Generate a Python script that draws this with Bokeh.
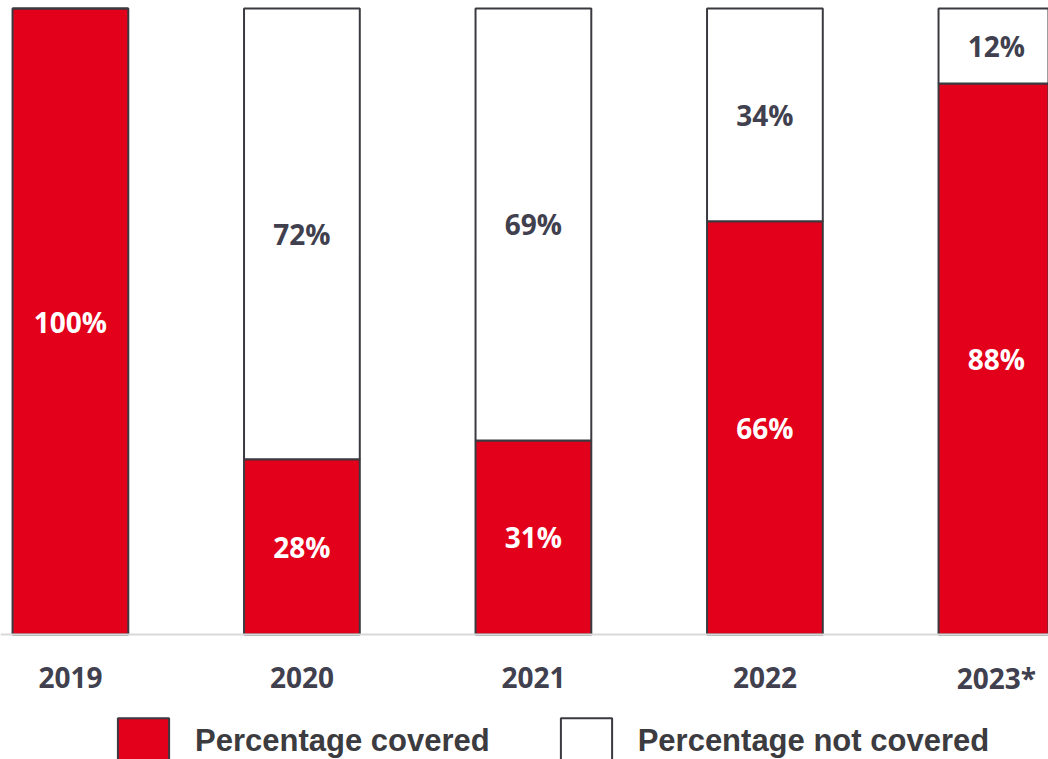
from bokeh.plotting import figure
from bokeh.models import ColumnDataSource, Range1d, Legend, LegendItem, LabelSet, Span
from bokeh.core.properties import value
from bokeh.embed import file_html
from bokeh.resources import INLINE

years = ["2019", "2020", "2021", "2022", "2023*"]
covered = [100, 28, 31, 66, 88]
not_covered = [0, 72, 69, 34, 12]

RED = "#E2001A"
DARK = "#40404E"
OUTLINE = "#3A3A40"

# pixel scale: 100 units span 626 px; the area below zero holds labels and legend
UNIT_PX = 6.26
LABEL_OFFSET_PX = 43

idx = list(range(len(years)))
src = ColumnDataSource(dict(
    x=idx,
    covered=covered,
    not_covered=not_covered,
    top=[c + n for c, n in zip(covered, not_covered)],
    cov_mid=[c / 2 for c in covered],
    nc_mid=[c + n / 2 for c, n in zip(covered, not_covered)],
    cov_lbl=[f"{c}%" for c in covered],
    nc_lbl=[f"{n}%" if n > 0 else "" for n in not_covered],
    year=years,
    year_y=[-LABEL_OFFSET_PX / UNIT_PX] * len(years),
))

p = figure(width=1048, height=759, output_backend="svg", toolbar_location=None,
           x_range=Range1d(-0.302, 4.225),
           y_range=Range1d(-125 / UNIT_PX, 100 + 8 / UNIT_PX),
           x_axis_location=None, y_axis_location=None,
           min_border_left=0, min_border_right=0,
           min_border_top=0, min_border_bottom=0)
p.outline_line_color = None
p.xgrid.visible = False
p.ygrid.visible = False

p.add_layout(Span(location=0, dimension="width", line_color="#D9D9D9", line_width=2))

r_cov = p.vbar(x="x", bottom=0, top="covered", width=0.5, source=src,
               fill_color=RED, line_color=OUTLINE, line_width=2)
r_nc = p.vbar(x="x", bottom="covered", top="top", width=0.5, source=src,
              fill_color="white", line_color=OUTLINE, line_width=2)

p.add_layout(LabelSet(x="x", y="cov_mid", text="cov_lbl", source=src,
                      text_align="center", text_baseline="middle",
                      text_font=value("Open Sans"), text_font_style="bold",
                      text_font_size=value("28px"), text_color="white"))
p.add_layout(LabelSet(x="x", y="nc_mid", text="nc_lbl", source=src,
                      text_align="center", text_baseline="middle",
                      text_font=value("Open Sans"), text_font_style="bold",
                      text_font_size=value("28px"), text_color=DARK))
p.add_layout(LabelSet(x="x", y="year_y", text="year", source=src,
                      text_align="center", text_baseline="middle",
                      text_font=value("Open Sans"), text_font_style="bold",
                      text_font_size=value("28px"), text_color=DARK))

legend = Legend(items=[LegendItem(label="Percentage covered", renderers=[r_cov]),
                       LegendItem(label="Percentage not covered", renderers=[r_nc])],
                orientation="horizontal", location=(111, -11),
                glyph_width=64, glyph_height=58, label_standoff=20, spacing=64,
                padding=0, margin=0, border_line_color=None,
                background_fill_alpha=0,
                label_text_font="Liberation Sans", label_text_font_style="bold",
                label_text_font_size="31px", label_text_color="#3B3B40",
                label_height=58)
p.add_layout(legend, "center")

open("out.html", "w").write(file_html(p, INLINE))
